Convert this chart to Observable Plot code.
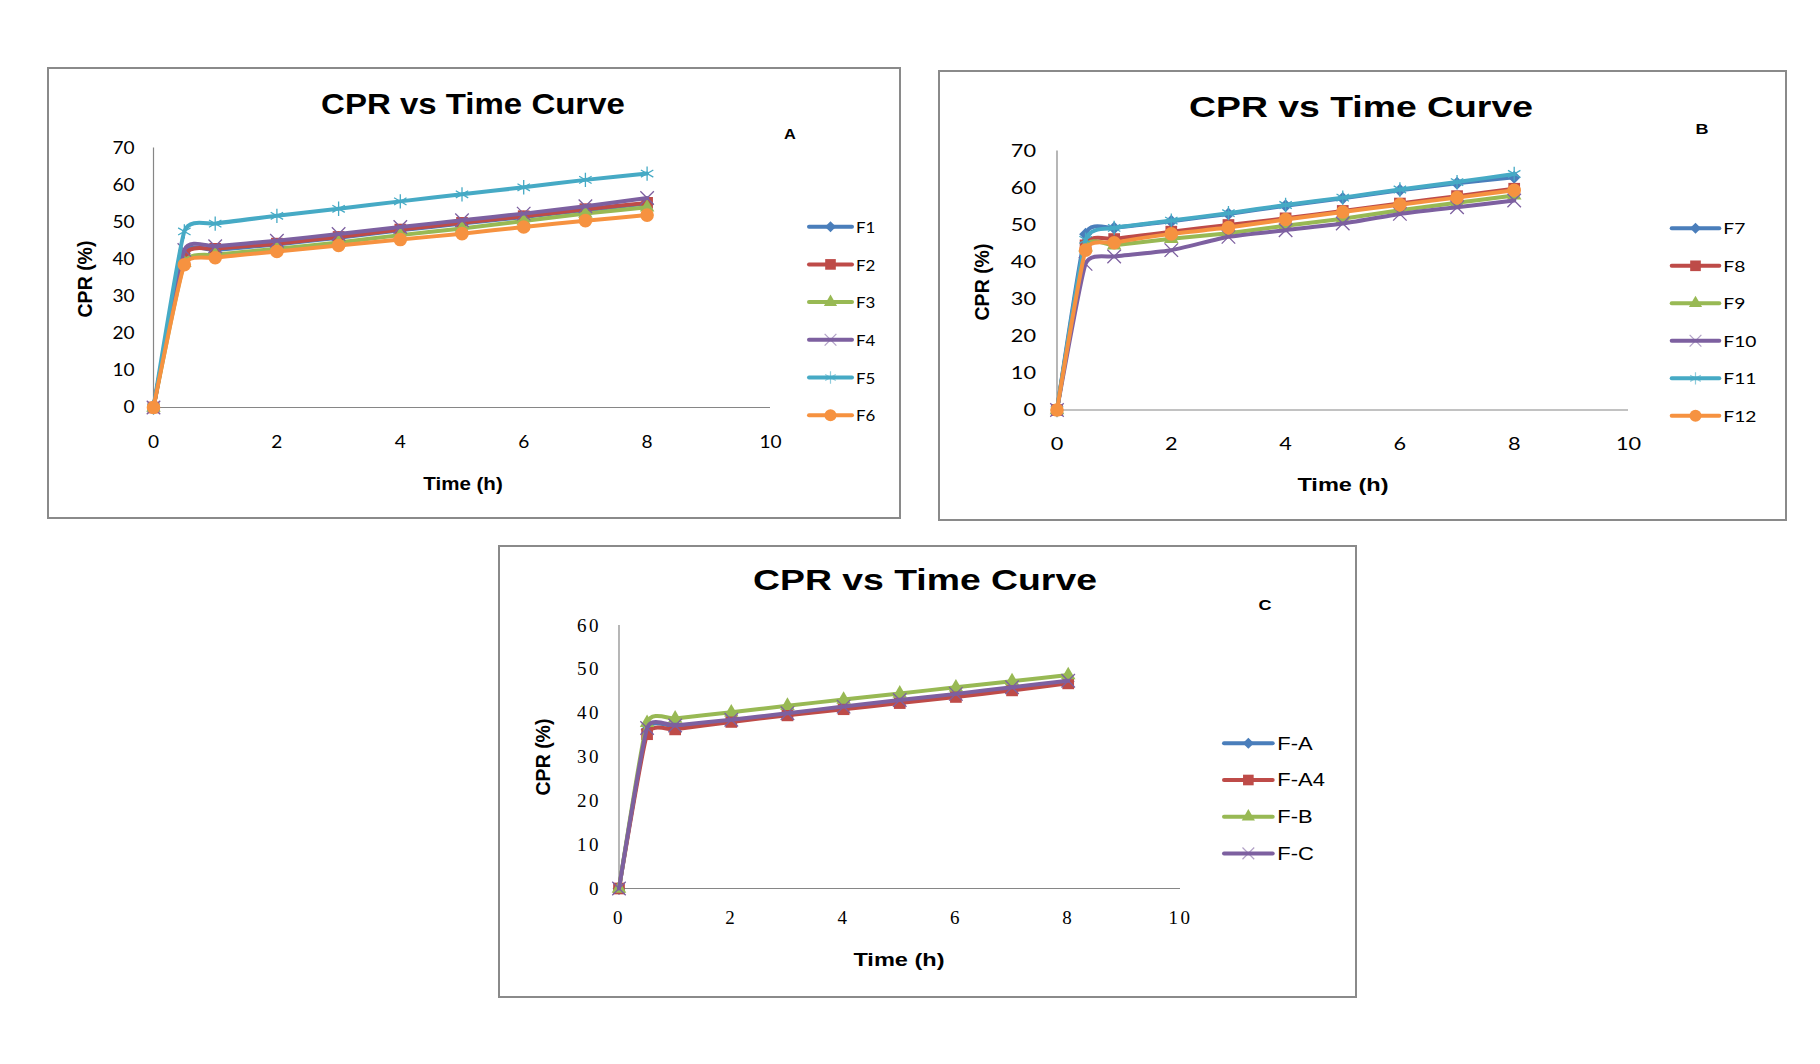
<!DOCTYPE html>
<html>
<head>
<meta charset="utf-8">
<script src="https://cdn.jsdelivr.net/npm/d3@7"></script>
<script src="https://cdn.jsdelivr.net/npm/@observablehq/plot@0.6"></script>
<style>
html,body{margin:0;padding:0;background:#fff;}
body{width:1820px;height:1064px;position:relative;overflow:hidden;}
.chart{position:absolute;}
.frame{position:absolute;left:0;top:0;right:0;bottom:0;border:2px solid #8a8a8a;box-sizing:border-box;pointer-events:none;}
.chart svg.plotsvg{position:absolute;left:0;top:0;}
.txt{position:absolute;white-space:nowrap;color:#000;line-height:1;font-family:"Liberation Sans",Arial,sans-serif;}
#overlay{position:absolute;left:0;top:0;pointer-events:none;overflow:visible;}
</style>
</head>
<body>
<script>
// ---------------- DATA ----------------
const times = [0, 0.5, 1, 2, 3, 4, 5, 6, 7, 8];
const xTicks = [0, 2, 4, 6, 8, 10];
const yTicksAB = [0, 10, 20, 30, 40, 50, 60, 70];
const yTicksC = [0, 10, 20, 30, 40, 50, 60];

const seriesA = ["F1", "F2", "F3", "F4", "F5", "F6"];
const F1 = [0, 41.5, 42.5, 44.0, 45.8, 47.8, 49.6, 51.4, 53.2, 55.0];
const F2 = [0, 41.0, 42.8, 44.2, 46.0, 48.0, 49.8, 51.6, 53.5, 55.2];
const F3 = [0, 39.0, 41.2, 42.8, 44.5, 46.5, 48.3, 50.3, 52.3, 54.0];
const F4 = [0, 42.5, 43.5, 45.0, 46.8, 48.7, 50.5, 52.3, 54.3, 56.5];
const F5 = [0, 47.5, 49.6, 51.7, 53.6, 55.6, 57.5, 59.4, 61.4, 63.1];
const F6 = [0, 38.5, 40.4, 42.1, 43.7, 45.3, 46.9, 48.7, 50.4, 51.9];

const seriesB = ["F7", "F8", "F9", "F10", "F11", "F12"];
const F7  = [0, 47.5, 49.2, 51.0, 53.0, 55.2, 57.2, 59.4, 61.3, 62.9];
const F8  = [0, 44.5, 46.2, 48.2, 50.0, 51.8, 53.8, 55.8, 57.8, 59.8];
const F9  = [0, 44.0, 44.5, 46.3, 47.8, 49.8, 51.7, 54.0, 56.0, 58.0];
const F10 = [0, 39.5, 41.5, 43.2, 46.8, 48.6, 50.4, 53.0, 54.8, 56.6];
const F11 = [0, 46.0, 49.2, 51.2, 53.2, 55.4, 57.4, 59.6, 61.6, 63.8];
const F12 = [0, 43.2, 45.2, 47.6, 49.3, 51.5, 53.5, 55.5, 57.4, 59.4];

const seriesC = ["F-A", "F-A4", "F-B", "F-C"];
const FA  = [0, 36.3, 37.0, 38.3, 39.8, 41.3, 42.8, 44.2, 45.7, 47.2];
const FA4 = [0, 35.2, 36.3, 38.0, 39.5, 40.9, 42.3, 43.7, 45.2, 46.8];
const FB  = [0, 37.8, 38.8, 40.2, 41.7, 43.1, 44.5, 45.9, 47.3, 48.7];
const FC  = [0, 36.6, 37.2, 38.5, 40.0, 41.5, 43.0, 44.4, 45.9, 47.4];

const colors6 = ["#4A7EBB", "#BE4B48", "#98B954", "#7D60A0", "#46AAC5", "#F69240"];
const colors4 = ["#4A7EBB", "#BE4B48", "#98B954", "#7D60A0"];
const symbols6 = ["diamond2", "square", "triangle", "times", "asterisk", "circle"];
const symbols4 = ["diamond2", "square", "triangle", "times"];

const titleText = "CPR vs Time Curve";
const yLabelText = "CPR (%)";
const xLabelText = "Time (h)";

// ---------------- STYLE / LAYOUT ----------------
const R = {diamond2: 5.8, square: 6.6, triangle: 5.4, times: 6.2, asterisk: 6.8, circle: 6.8};
const RL = {diamond2: 5.0, square: 6.0, triangle: 4.9, times: 5.4, asterisk: 5.8, circle: 6.0};
const D3SYM = {diamond2: d3.symbolDiamond2, square: d3.symbolSquare, triangle: d3.symbolTriangle,
               times: d3.symbolTimes, asterisk: d3.symbolAsterisk, circle: d3.symbolCircle};

const charts = [
  {
    tag: "A", series: seriesA, values: [F1, F2, F3, F4, F5, F6], colors: colors6, symbols: symbols6,
    yTicks: yTicksAB, yMax: 70,
    box: [47, 67, 854, 452], axes: {x0: 153, x10: 770, yTop: 147.5, y0: 407},
    tickFont: "Lato", tickSize: 17.5, tickLS: "normal", yPad: 19, xPad: 28, sx: 1.09,
    title: [472.5, 104], ylab: [85.5, 278.5], xlab: [462.5, 482.5], letter: [790, 133],
    legend: {x1: 809, x2: 852, tx: 856, y: 226.7, dy: 37.7, font: "Lato", size: 15.5, sx: 1.09}
  },
  {
    tag: "B", series: seriesB, values: [F7, F8, F9, F10, F11, F12], colors: colors6, symbols: symbols6,
    yTicks: yTicksAB, yMax: 70,
    box: [938, 70, 849, 451], axes: {x0: 1056.5, x10: 1628, yTop: 150.5, y0: 409.5},
    tickFont: "Lato", tickSize: 17.5, tickLS: "normal", yPad: 21, xPad: 28, sx: 1.24,
    title: [1360.5, 106.5], ylab: [983, 281.5], xlab: [1343, 484.3], letter: [1702, 128.3],
    legend: {x1: 1671.7, x2: 1719.3, tx: 1723.3, y: 228.3, dy: 37.5, font: "Lato", size: 15.5, sx: 1.24}
  },
  {
    tag: "C", series: seriesC, values: [FA, FA4, FB, FC], colors: colors4, symbols: symbols4,
    yTicks: yTicksC, yMax: 60,
    box: [498, 545, 859, 453], axes: {x0: 618.5, x10: 1180, yTop: 625, y0: 888},
    tickFont: "Liberation Serif", tickSize: 19, tickLS: "2.5px", yPad: 18, xPad: 22, sx: 1.0,
    title: [925, 580], ylab: [544, 757], xlab: [899, 959], letter: [1265, 604],
    legend: {x1: 1224, x2: 1272.7, tx: 1277.3, y: 743.3, dy: 36.7, font: "Liberation Sans", size: 18, sx: 1.22}
  }
];

function addText(text, cx, cy, o) {
  const el = document.createElement("div");
  el.className = "txt";
  el.textContent = text;
  el.style.left = cx + "px";
  el.style.top = cy + "px";
  el.style.fontSize = o.size + "px";
  if (o.bold) el.style.fontWeight = "bold";
  if (o.family) el.style.fontFamily = o.family;
  el.style.transform = `translate(-50%,-50%) scaleX(${o.sx || 1}) rotate(${o.rot || 0}deg)`;
  document.body.appendChild(el);
}

const NS = "http://www.w3.org/2000/svg";
const overlay = document.createElementNS(NS, "svg");
overlay.setAttribute("id", "overlay");
overlay.setAttribute("width", 1820);
overlay.setAttribute("height", 1064);

charts.forEach(cfg => {
  const [bx, by, bw, bh] = cfg.box;
  const div = document.createElement("div");
  div.className = "chart";
  Object.assign(div.style, {left: bx + "px", top: by + "px", width: bw + "px", height: bh + "px"});

  const rows = [];
  cfg.series.forEach((s, i) => cfg.values[i].forEach((v, j) => rows.push({series: s, t: times[j], v})));

  const marks = [
    Plot.ruleY([0], {stroke: "#868686", strokeWidth: 1.2}),
    Plot.ruleX([0], {stroke: "#868686", strokeWidth: 1.2}),
    Plot.axisY({ticks: cfg.yTicks, tickSize: 0, tickPadding: cfg.yPad, label: null, tickFormat: d => String(d)}),
    Plot.axisX({ticks: xTicks, tickSize: 0, tickPadding: cfg.xPad, label: null, tickFormat: d => String(d)})
  ];
  cfg.series.forEach((s, i) => {
    const d = rows.filter(r => r.series === s);
    marks.push(Plot.line(d, {x: "t", y: "v", stroke: "series", strokeWidth: 4, curve: "cardinal", tension: 0.55}));
    const sym = cfg.symbols[i];
    const open = sym === "times" || sym === "asterisk";
    marks.push(Plot.dot(d, {
      x: "t", y: "v", symbol: "series", r: R[sym],
      fill: open ? "none" : "series", stroke: open ? "series" : "none", strokeWidth: open ? 1.3 : 0
    }));
  });

  const svg = Plot.plot({
    width: bw, height: bh,
    marginLeft: cfg.axes.x0 - bx, marginRight: bx + bw - cfg.axes.x10,
    marginTop: cfg.axes.yTop - by, marginBottom: by + bh - cfg.axes.y0,
    x: {domain: [0, 10]}, y: {domain: [0, cfg.yMax]},
    color: {domain: cfg.series, range: cfg.colors},
    symbol: {domain: cfg.series, range: cfg.symbols},
    style: {fontFamily: cfg.tickFont, fontSize: cfg.tickSize + "px", color: "#000",
            background: "transparent", overflow: "visible", letterSpacing: cfg.tickLS},
    marks
  });
  svg.classList.add("plotsvg");
  div.appendChild(svg);
  const frame = document.createElement("div");
  frame.className = "frame";
  div.appendChild(frame);
  document.body.appendChild(div);

  // texts
  addText(titleText, cfg.title[0], cfg.title[1], {size: 30, bold: true, sx: cfg.tag === "A" ? 1.1 : 1.245});
  addText(yLabelText, cfg.ylab[0], cfg.ylab[1], {size: 19.5, bold: true, rot: -90});
  addText(xLabelText, cfg.xlab[0], cfg.xlab[1], {size: 19, bold: true, sx: cfg.tag === "A" ? 1.08 : 1.24});
  addText(cfg.tag, cfg.letter[0], cfg.letter[1], {size: 15, bold: true, sx: cfg.tag === "A" ? 1.09 : 1.2});

  // legend
  const L = cfg.legend;
  cfg.series.forEach((s, i) => {
    const y = L.y + i * L.dy;
    const ln = document.createElementNS(NS, "line");
    ln.setAttribute("x1", L.x1); ln.setAttribute("x2", L.x2);
    ln.setAttribute("y1", y); ln.setAttribute("y2", y);
    ln.setAttribute("stroke", cfg.colors[i]); ln.setAttribute("stroke-width", 4);
    ln.setAttribute("stroke-linecap", "round");
    overlay.appendChild(ln);
    const sym = cfg.symbols[i];
    const open = sym === "times" || sym === "asterisk";
    const p = document.createElementNS(NS, "path");
    p.setAttribute("d", d3.symbol().type(D3SYM[sym]).size(Math.PI * RL[sym] * RL[sym])());
    p.setAttribute("transform", `translate(${(L.x1 + L.x2) / 2},${y})`);
    if (open) {
      p.setAttribute("fill", "none");
      p.setAttribute("stroke", cfg.colors[i]);
      p.setAttribute("stroke-width", 1.2);
      p.setAttribute("stroke-opacity", 0.6);
    } else {
      p.setAttribute("fill", cfg.colors[i]);
    }
    overlay.appendChild(p);
    const t = document.createElementNS(NS, "text");
    t.textContent = s;
    t.setAttribute("transform", `translate(${L.tx},${y}) scale(${L.sx},1)`);
    t.setAttribute("dominant-baseline", "central");
    t.setAttribute("font-family", L.font);
    t.setAttribute("font-size", L.size);
    t.setAttribute("fill", "#000");
    overlay.appendChild(t);
  });
});
document.body.appendChild(overlay);

// stretch tick labels horizontally to match the reference's wide proportions
charts.forEach((cfg, k) => {
  const svg = document.querySelectorAll("svg.plotsvg")[k];
  const sx = cfg.sx;
  if (sx === 1) return;
  svg.querySelectorAll('g[aria-label$="tick label"] text').forEach(t => {
    const w = t.getComputedTextLength();
    if (w > 0) {
      t.setAttribute("textLength", (w * sx).toFixed(2));
      t.setAttribute("lengthAdjust", "spacingAndGlyphs");
    }
  });
});
</script>
</body>
</html>
